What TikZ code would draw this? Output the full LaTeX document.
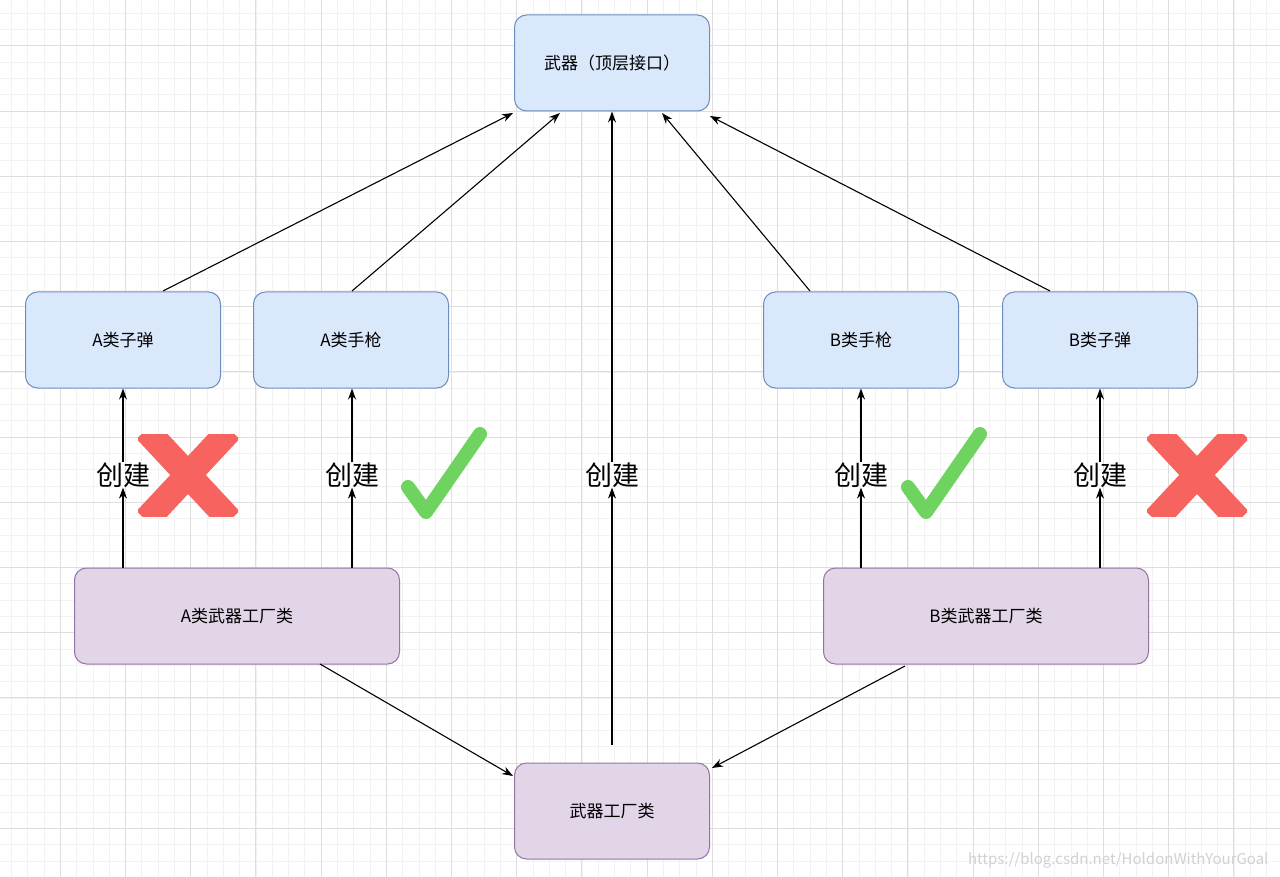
\documentclass[tikz,border=0pt]{standalone}
\usepackage{fontspec}
\setmainfont{Noto Sans CJK SC}
\usetikzlibrary{arrows.meta}
\begin{document}
\begin{tikzpicture}[x=1pt,y=-1pt,
  box/.style={draw,rounded corners=12pt,minimum width=195pt,minimum height=96pt,font=\fontsize{17}{19}\selectfont,line width=1pt},
  blue/.style={box,fill={rgb,255:red,218;green,232;blue,252},draw={rgb,255:red,108;green,142;blue,191}},
  purp/.style={box,fill={rgb,255:red,225;green,213;blue,231},draw={rgb,255:red,150;green,115;blue,166}},
  arr/.style={-{Stealth[length=11pt,width=8pt]},line width=1.1pt},
  lab/.style={inner sep=0pt,font=\fontsize{27}{29}\selectfont}]
\useasboundingbox (0,0) rectangle (1280,877);
\fill[white] (0,0) rectangle (1280,877);
\foreach \i in {0,...,80} {\draw[black!5,line width=0.6pt] ({-5+16.3*\i},0) -- ++(0,877);}
\foreach \i in {0,...,55} {\draw[black!5,line width=0.6pt] (0,{-19.4+16.3*\i}) -- ++(1280,0);}
\foreach \i in {0,...,20} {\draw[black!13,line width=0.7pt] ({-5+65.2*\i},0) -- ++(0,877);}
\foreach \i in {0,...,14} {\draw[black!13,line width=0.7pt] (0,{45.8+65.2*\i}) -- ++(1280,0);}
\node[blue] (top) at (612,63) {武器（顶层接口）};
\node[blue] (as) at (123,340) {A类子弹};
\node[blue] (ap) at (351,340) {A类手枪};
\node[blue] (bp) at (861,340) {B类手枪};
\node[blue] (bs) at (1100,340) {B类子弹};
\node[purp,minimum width=325pt] (af) at (237,616) {A类武器工厂类};
\node[purp,minimum width=325pt] (bf) at (986,616) {B类武器工厂类};
\node[purp] (wf) at (612,811) {武器工厂类};
\coordinate (t1) at (513,113); \coordinate (t2) at (560,113);
\coordinate (t4) at (662,113); \coordinate (t5) at (710,116);
\coordinate (s1) at (163,291); \coordinate (s2) at (352,291); \coordinate (s4) at (810,291); \coordinate (s5) at (1050,291);
\coordinate (wt) at (612,745);
\draw[arr] (s1) -- (t1);
\draw[arr] (s2) -- (t2);
\draw[arr] (s4) -- (t4);
\draw[arr] (s5) -- (t5);
\node[lab] (l0) at (612,475) {创建};
\node[lab] (l1) at (123,475) {创建};
\node[lab] (l2) at (352,475) {创建};
\node[lab] (l3) at (861,475) {创建};
\node[lab] (l4) at (1100,475) {创建};
\draw[arr] (wt) -- (l0.south);
\draw[arr] (l0.north) -- (top.south);
\draw[arr] (af.north -| l1) -- (l1.south);
\draw[arr] (l1.north) -- (as.south);
\draw[arr] (af.north -| l2) -- (l2.south);
\draw[arr] (l2.north) -- (ap.south -| l2);
\draw[arr] (bf.north -| l3) -- (l3.south);
\draw[arr] (l3.north) -- (bp.south);
\draw[arr] (bf.north -| l4) -- (l4.south);
\draw[arr] (l4.north) -- (bs.south);
\coordinate (a1) at (320,664); \coordinate (a2) at (513,776);
\coordinate (b1) at (905,666); \coordinate (b2) at (712,768);
\draw[arr] (a1) -- (a2);
\draw[arr] (b1) -- (b2);
\definecolor{xr}{RGB}{247,100,95}
\definecolor{ck}{RGB}{111,211,95}
\foreach \cx in {188,1197} {
  \begin{scope}
  \clip (\cx-50,434) rectangle (\cx+50,516);
  \draw[xr,line width=26pt] (\cx-42,430) -- (\cx+42,520);
  \draw[xr,line width=26pt] (\cx+42,430) -- (\cx-42,520);
  \end{scope}
}
\foreach \cx in {444,944} {
  \draw[ck,line width=14pt,line cap=round,line join=round] (\cx-36,487) -- (\cx-18,512) -- (\cx+36,434);
}
\node[text=black!18,font=\fontsize{15}{17}\selectfont,anchor=east] (wm) at (1272,860) {https://blog.csdn.net/HoldonWithYourGoal};
\end{tikzpicture}
\end{document}
